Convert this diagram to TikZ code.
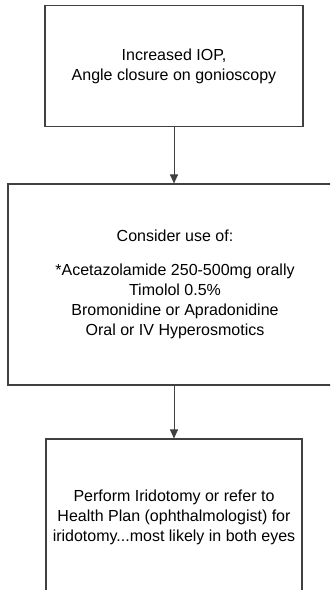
\documentclass[tikz,border=0pt]{standalone}
\usepackage{fontspec}
\setmainfont{Liberation Sans}
\usetikzlibrary{arrows.meta}
\definecolor{linegray}{HTML}{404040}
\begin{document}
\begin{tikzpicture}[x=1pt,y=-1pt,
  box/.style={draw=linegray, line width=1.1pt, align=center, inner sep=0pt,
    font=\fontsize{16}{20}\selectfont},
  conn/.style={draw=linegray, line width=0.9pt, -{Triangle[length=9pt,width=8pt]}}]
\useasboundingbox (0,0) rectangle (330,590);
\clip (0,0) rectangle (330,590);
\node[box, minimum width=258pt, minimum height=121pt] (b1) at (174,66)
  {Increased IOP,\\Angle closure on gonioscopy};
\node[box, minimum width=334pt, minimum height=201pt] (b2) at (175,284.5)
  {Consider use of:\\[14pt]*Acetazolamide 250-500mg orally\\Timolol 0.5\%\\Bromonidine or Apradonidine\\Oral or IV Hyperosmotics};
\node[box, minimum width=256pt, minimum height=156pt] (b3) at (174,517)
  {Perform Iridotomy or refer to\\Health Plan (ophthalmologist) for\\iridotomy...most likely in both eyes};
\draw[conn] (b1.south) -- (b1.south |- b2.north);
\draw[conn] (b3.north |- b2.south) -- (b3.north);
\end{tikzpicture}
\end{document}
